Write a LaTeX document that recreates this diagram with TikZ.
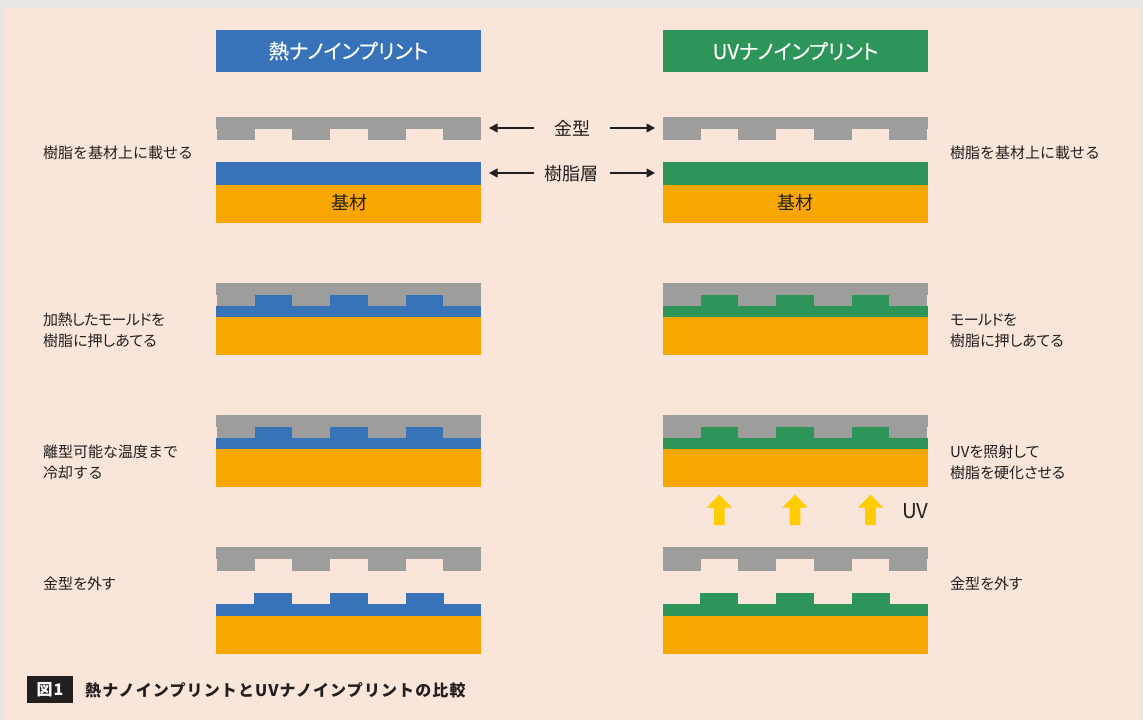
\documentclass[tikz,border=0pt]{standalone}
\usepackage{fontspec}
\usetikzlibrary{arrows.meta}
\setmainfont[RawFeature=+palt]{Noto Sans CJK JP}
\newfontfamily\plainfont{Noto Sans CJK JP}
\newfontfamily\tightfont[RawFeature=+palt,LetterSpace=-3.5]{Noto Sans CJK JP}
\newfontfamily\capfont[LetterSpace=7]{Noto Sans CJK JP}
\newfontfamily\headfont[RawFeature=+palt,FakeBold=0.25]{Noto Sans CJK JP}
\definecolor{panel}{HTML}{F9E5D9}
\definecolor{edge}{HTML}{E9E6E1}
\definecolor{moldc}{HTML}{9D9D9B}
\definecolor{heatc}{HTML}{3873B9}
\definecolor{uvc}{HTML}{2E955A}
\definecolor{basec}{HTML}{F8A700}
\definecolor{arrowc}{HTML}{FFCC00}
\definecolor{inkc}{HTML}{231F20}
\tikzset{
  x=1pt,y=-1pt,
  stepnote/.style={anchor=north west,inner sep=0pt,font=\fontsize{15}{21}\selectfont,text=inkc,align=left},
  midnote/.style={inner sep=0pt,font=\plainfont\fontsize{18}{20}\selectfont,text=inkc},
  headbox/.style={minimum width=265pt,minimum height=42pt,inner sep=0pt,text=white,font=\headfont\fontsize{20.4}{22}\selectfont},
  pointer/.style={draw=inkc,line width=1.1pt,-{Triangle[length=8.5pt,width=9pt]}},
}
% mold: #1 left x, #2 top y, #3 first tooth x, #4 tooth height
\newcommand{\moldshape}[4]{%
  \fill[moldc] (#1,#2) rectangle ++(265,12);
  \fill[moldc] (#3,#2+12) rectangle ++(38,#4);
  \fill[moldc] (#3+75,#2+12) rectangle ++(38,#4);
  \fill[moldc] (#3+151,#2+12) rectangle ++(38,#4);
  \fill[moldc] (#3+226,#2+12) rectangle ++(38,#4);
}
% patterned resin + base: #1 left x, #2 bump top y, #3 colour, #4 first bump x, #5 resin layer height
\newcommand{\resinshape}[5]{%
  \fill[#3] (#1,#2+11) rectangle ++(265,#5);
  \fill[#3] (#4,#2) rectangle ++(38,11);
  \fill[#3] (#4+76,#2) rectangle ++(38,11);
  \fill[#3] (#4+152,#2) rectangle ++(38,11);
  \fill[basec] (#1,#2+11+#5) rectangle ++(265,38);
}
\newcommand{\uvarrow}[1]{%
  \fill[arrowc] (#1,494.7) -- (#1+12.7,507.7) -- (#1+5.3,507.7) -- (#1+5.3,525) -- (#1-5.3,525) -- (#1-5.3,507.7) -- (#1-12.7,507.7) -- cycle;
}
\begin{document}
\begin{tikzpicture}
\useasboundingbox (0,0) rectangle (1143,720);
\fill[edge] (0,0) rectangle (1143,720);
\fill[panel] (3.5,7.5) rectangle (1139,720);
% headers
\node[headbox,fill=heatc] (h1) at (348.5,51) {熱ナノインプリント};
\node[headbox,fill=uvc] (h2) at (795.5,51) {UVナノインプリント};
% row 1
\moldshape{216}{117}{217}{11}
\fill[heatc] (216,162) rectangle (481,185);
\fill[basec] (216,185) rectangle (481,223);
\moldshape{663}{117}{663}{11}
\fill[uvc] (663,162) rectangle (928,185);
\fill[basec] (663,185) rectangle (928,223);
\node[midnote] (b1) at (349,203) {基材};
\node[midnote] (b2) at (795.5,203) {基材};
\node[midnote] (mold) at (572,128) {金型};
\node[midnote] (resin) at (571,173.5) {樹脂層};
\coordinate (ml1) at (534,128); \coordinate (ml2) at (489,128);
\coordinate (mr1) at (610,128); \coordinate (mr2) at (655,128);
\coordinate (rl1) at (534,173); \coordinate (rl2) at (489,173);
\coordinate (rr1) at (610,173); \coordinate (rr2) at (655,173);
\draw[pointer] (ml1) -- (ml2);
\draw[pointer] (mr1) -- (mr2);
\draw[pointer] (rl1) -- (rl2);
\draw[pointer] (rr1) -- (rr2);
% row 2
\resinshape{216}{295}{heatc}{254}{11}
\moldshape{216}{283}{217}{11}
\resinshape{663}{295}{uvc}{700}{11}
\moldshape{663}{283}{663}{11}
% row 3
\resinshape{216}{427}{heatc}{254}{11}
\moldshape{216}{415}{217}{11}
\resinshape{663}{427}{uvc}{700}{11}
\moldshape{663}{415}{663}{11}
% row 4
\moldshape{216}{547}{217}{12}
\resinshape{216}{593}{heatc}{254}{12}
\moldshape{663}{547}{663}{12}
\resinshape{663}{593}{uvc}{700}{12}
% UV arrows
\uvarrow{719.3}
\uvarrow{795}
\uvarrow{870.5}
\node[midnote,anchor=west,font=\plainfont\fontsize{20.5}{22}\selectfont] (uv) at (902,511.5) {UV};
% side notes
\node[stepnote] (n1) at (43,146) {\plainfont 樹脂を基材上に載せる};
\node[stepnote] (n2) at (43,313) {{\tightfont 加熱したモールドを}\\樹脂に押しあてる};
\node[stepnote] (n3) at (43,445) {{\plainfont 離型可能な温度まで}\\{\plainfont 冷却する}};
\node[stepnote] (n4) at (43,577) {金型を外す};
\node[stepnote] (n5) at (950,146) {\plainfont 樹脂を基材上に載せる};
\node[stepnote] (n6) at (950,313) {{\tightfont モールドを}\\樹脂に押しあてる};
\node[stepnote] (n7) at (950,445) {UVを照射して\\樹脂を硬化させる};
\node[stepnote] (n8) at (950,577) {金型を外す};
% caption
\fill[inkc] (27,676) rectangle (73,703);
\node[inner sep=0pt,text=white,font=\capfont\bfseries\fontsize{16}{18}\selectfont] (fig) at (50,690) {図1};
\node[anchor=west,inner sep=0pt,text=inkc,font=\capfont\bfseries\fontsize{16}{18}\selectfont] (cap) at (85,690) {熱ナノインプリントとUVナノインプリントの比較};
\end{tikzpicture}
\end{document}
